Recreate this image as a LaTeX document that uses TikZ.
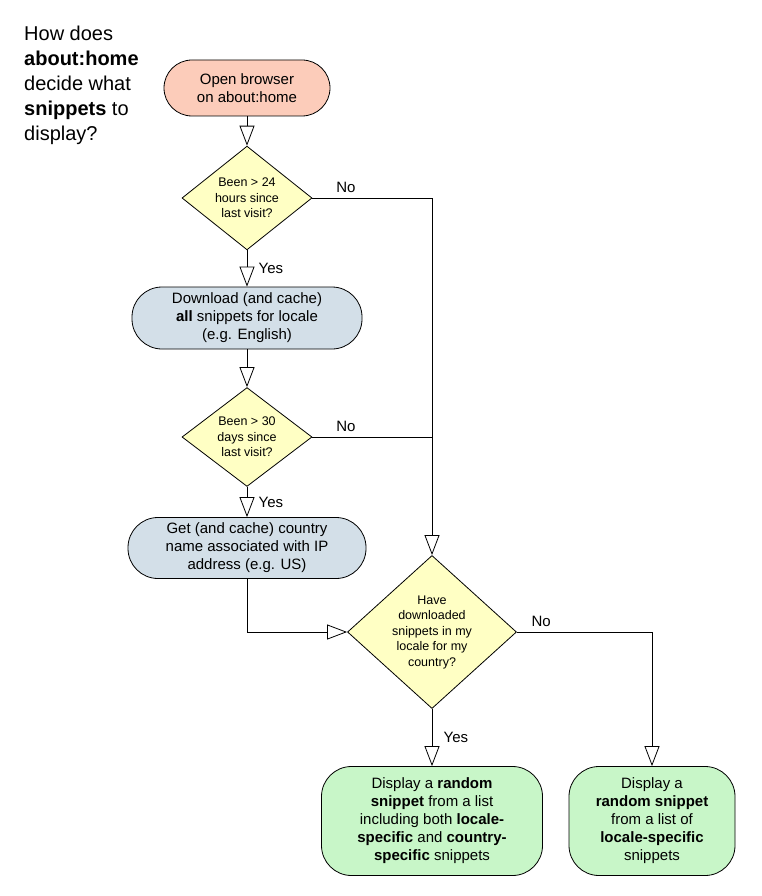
\documentclass[tikz,border=0pt]{standalone}
\usepackage{fontspec}
\setmainfont{Liberation Sans}
\usetikzlibrary{positioning, shapes.geometric, arrows.meta}
\definecolor{startfill}{RGB}{252,204,186}
\definecolor{askfill}{RGB}{255,255,196}
\definecolor{stepfill}{RGB}{211,223,232}
\definecolor{endfill}{RGB}{200,246,200}
\tikzset{
  pill/.style={draw, thick, rounded corners=30pt, align=center, font=\fontsize{15}{18}\selectfont, inner sep=0pt},
  ask/.style={draw, thick, diamond, fill=askfill, align=center, inner sep=0pt, font=\fontsize{12.5}{15.5}\selectfont},
  flow/.style={thick, -{Triangle[open, length=20pt, width=15pt]}},
  lbl/.style={font=\fontsize{15}{18}\selectfont}
}
\begin{document}
\begin{tikzpicture}[x=1pt, y=-1pt]
      \useasboundingbox (0,0) rectangle (761,896);
      \node[align=left, anchor=north west, font=\fontsize{20}{25}\selectfont, inner sep=0pt] (title) at (24,26) {How does\\\textbf{about:home}\\decide what\\\textbf{snippets} to\\display?};

      \node[pill, fill=startfill, minimum width=166pt, minimum height=56pt, rounded corners=28pt] (open) at (247,88) {Open browser\\on about:home};
      \node[ask, minimum width=130pt, minimum height=92pt] (day) at (247,198) {Been > 24\\hours since\\last visit?};
      \node[pill, fill=stepfill, minimum width=230pt, minimum height=62pt] (fetch) at (247,318) {Download (and cache)\\\textbf{all} snippets for locale\\(e.g. English)};
      \node[ask, minimum width=130pt, minimum height=93pt] (month) at (247,437) {Been > 30\\days since\\last visit?};
      \node[pill, fill=stepfill, minimum width=238pt, minimum height=61pt] (country) at (247,548) {Get (and cache) country\\name associated with IP\\address (e.g. US)};
      \node[ask, minimum width=169pt, minimum height=124pt] (have) at (432,632) {Have\\downloaded\\snippets in my\\locale for my\\country?};
      \node[pill, fill=endfill, minimum width=221pt, minimum height=109pt] (both) at (432,821) {Display a \textbf{random}\\\textbf{snippet} from a list\\including both \textbf{locale-}\\\textbf{specific} and \textbf{country-}\\\textbf{specific} snippets};
      \node[pill, fill=endfill, minimum width=166pt, minimum height=109pt] (local) at (652,821) {Display a\\\textbf{random snippet}\\from a list of\\\textbf{locale-specific}\\snippets};

      \draw[flow] (open) -- (day);
      \draw[flow] (day) -- node[lbl, right=8pt] {Yes} (fetch);
      \draw[flow] (fetch) -- (month);
      \draw[flow] (month) -- node[lbl, right=8pt] {Yes} (country);
      \draw[flow] (day.east) -- node[lbl, above=2pt, pos=0.28] {No} (day.east -| have.north) -- (have.north);
      \draw[thick] (month.east) -- node[lbl, above=2pt, pos=0.28] {No} (month.east -| have.north);
      \draw[flow] (country.south) |- (have.west);
      \draw[flow] (have) -- node[lbl, right=8pt] {Yes} (both);
      \draw[flow] (have.east) -- node[lbl, above=2pt, pos=0.18] {No} (have.east -| local.north) -- (local.north);
    \end{tikzpicture}
\end{document}
